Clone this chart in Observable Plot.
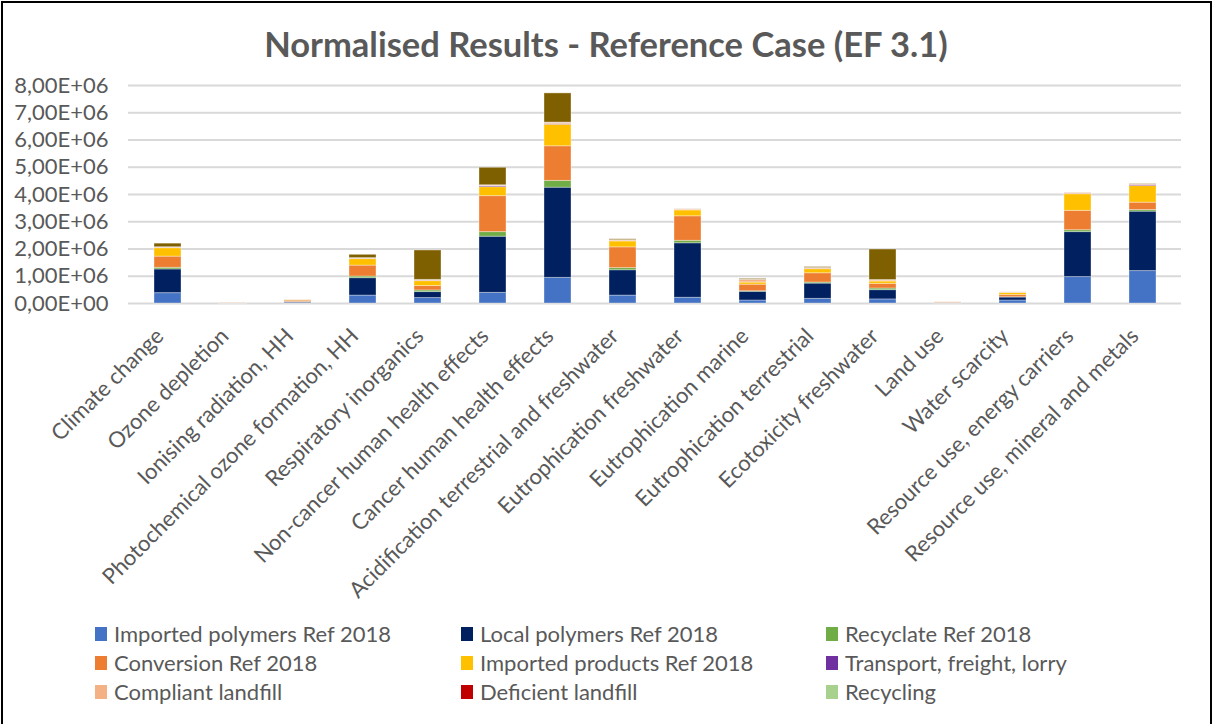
<!DOCTYPE html>
<html>
<head>
<meta charset="utf-8">
<script src="https://cdn.jsdelivr.net/npm/d3@7"></script>
<script src="https://cdn.jsdelivr.net/npm/@observablehq/plot@0.6"></script>
<style>
  html, body { margin: 0; padding: 0; background: #fff; }
  #frame { position: relative; width: 1212px; height: 724px; overflow: hidden; font-family: Lato, "Liberation Sans", sans-serif; color: #595959; }
  #border { position: absolute; left: 1px; top: 1px; width: 1207px; height: 740px; border-top: 2px solid #000; border-left: 2px solid #000; border-right: 2px solid #000; }
  #title { position: absolute; left: 0; width: 1212px; top: 24px; text-align: center; font-size: 34.5px; line-height: 40px; font-weight: bold; color: #595959; }
  #chart { position: absolute; left: 0; top: 70px; }
  #legend { position: absolute; left: 0; top: 0; }
  .leg { position: absolute; font-size: 22px; color: #595959; white-space: nowrap; line-height: 22px; }
  .sw { position: absolute; width: 12px; height: 14px; }
</style>
</head>
<body>
<div id="frame">
  <div id="border"></div>
  <div id="title">Normalised Results - Reference Case (EF 3.1)</div>
  <div id="chart"></div>
  <div id="legend"></div>
</div>
<script>
const categories = [
  "Climate change", "Ozone depletion", "Ionising radiation, HH", "Photochemical ozone formation, HH",
  "Respiratory inorganics", "Non-cancer human health effects", "Cancer human health effects",
  "Acidification terrestrial and freshwater", "Eutrophication freshwater", "Eutrophication marine",
  "Eutrophication terrestrial", "Ecotoxicity freshwater", "Land use", "Water scarcity",
  "Resource use, energy carriers", "Resource use, mineral and metals"
];
const seriesNames = [
  "Imported polymers Ref 2018", "Local polymers Ref 2018", "Recyclate Ref 2018",
  "Conversion Ref 2018", "Imported products Ref 2018", "Transport, freight, lorry",
  "Compliant landfill", "Deficient landfill", "Recycling", "Incineration"
];
const seriesColors = ["#4472C4", "#002060", "#70AD47", "#ED7D31", "#FFC000", "#7030A0", "#F4B183", "#C00000", "#A9D18E", "#7F6000"];
// values in millions (×1E+06)
const importedPolymers = [0.38, 0.005, 0.02, 0.29, 0.20, 0.39, 0.94, 0.29, 0.21, 0.11, 0.17, 0.15, 0.01, 0.11, 0.97, 1.19];
const localPolymers    = [0.87, 0.005, 0.03, 0.64, 0.22, 2.06, 3.31, 0.93, 2.00, 0.32, 0.56, 0.34, 0.01, 0.11, 1.65, 2.18];
const recyclate        = [0.06, 0.000, 0.005, 0.06, 0.06, 0.17, 0.25, 0.08, 0.09, 0.02, 0.04, 0.06, 0.002, 0.01, 0.07, 0.06];
const conversion       = [0.41, 0.005, 0.05, 0.40, 0.16, 1.32, 1.27, 0.76, 0.90, 0.24, 0.34, 0.17, 0.02, 0.08, 0.71, 0.27];
const importedProducts = [0.31, 0.002, 0.02, 0.24, 0.18, 0.33, 0.79, 0.22, 0.22, 0.08, 0.15, 0.09, 0.005, 0.08, 0.61, 0.61];
const transport        = [0.01, 0.000, 0.002, 0.01, 0.01, 0.04, 0.02, 0.01, 0.005, 0.005, 0.01, 0.005, 0.001, 0.002, 0.01, 0.04];
const compliantLandfill= [0.02, 0.010, 0.01, 0.02, 0.03, 0.02, 0.05, 0.03, 0.03, 0.09, 0.03, 0.04, 0.01, 0.02, 0.04, 0.03];
const deficientLandfill= [0.003, 0.000, 0.001, 0.003, 0.003, 0.005, 0.005, 0.003, 0.003, 0.003, 0.003, 0.003, 0.001, 0.001, 0.003, 0.003];
const recycling        = [0.003, 0.000, 0.001, 0.003, 0.003, 0.005, 0.005, 0.003, 0.003, 0.003, 0.003, 0.003, 0.001, 0.001, 0.003, 0.003];
const incineration     = [0.13, 0.000, 0.000, 0.12, 1.08, 0.64, 1.07, 0.03, 0.000, 0.03, 0.03, 1.12, 0.000, 0.000, 0.000, 0.01];
const yTicks = [0, 1e6, 2e6, 3e6, 4e6, 5e6, 6e6, 7e6, 8e6];
const legendCount = 9;

const seriesValues = [importedPolymers, localPolymers, recyclate, conversion, importedProducts,
  transport, compliantLandfill, deficientLandfill, recycling, incineration];

const data = [];
categories.forEach((c, i) => {
  seriesNames.forEach((s, j) => {
    data.push({category: c, series: s, value: seriesValues[j][i] * 1e6});
  });
});

function fmt(v) {
  if (v === 0) return "0,00E+00";
  const e = Math.floor(Math.log10(Math.abs(v)));
  const m = v / Math.pow(10, e);
  return m.toFixed(2).replace(".", ",") + "E+" + String(e).padStart(2, "0");
}

const chart = Plot.plot({
  width: 1212,
  height: 545,
  marginLeft: 128,
  marginRight: 31,
  marginTop: 15,
  marginBottom: 312,
  style: {fontFamily: "Lato, 'Liberation Sans', sans-serif", fontSize: "22px", color: "#595959", background: "transparent"},
  x: {domain: categories, paddingInner: 0.59, paddingOuter: 0.295, align: 0.5, label: null},
  y: {domain: [0, 8e6], label: null},
  color: {domain: seriesNames, range: seriesColors},
  marks: [
    Plot.gridY(yTicks, {stroke: "#d9d9d9", strokeOpacity: 1, strokeWidth: 2}),
    Plot.barY(data, {x: "category", y: "value", fill: "series", z: "series", stroke: "white", strokeOpacity: 0.35, strokeWidth: 1}),
    Plot.axisX({tickRotate: -45, tickSize: 0, tickPadding: 29, dx: -8, label: null, fontSize: 22}),
    Plot.axisY(yTicks, {tickFormat: fmt, tickSize: 0, tickPadding: 20, label: null, fontSize: 22})
  ]
});
document.getElementById("chart").appendChild(chart);

const legend = document.getElementById("legend");
const colX = [95, 461, 826];
const rowY = [623, 652, 681];
seriesNames.slice(0, legendCount).forEach((s, i) => {
  const col = i % 3, row = Math.floor(i / 3);
  const sw = document.createElement("div");
  sw.className = "sw";
  sw.style.left = colX[col] + "px";
  sw.style.top = (rowY[row] + 4) + "px";
  sw.style.background = seriesColors[i];
  legend.appendChild(sw);
  const t = document.createElement("div");
  t.className = "leg";
  t.style.left = (colX[col] + 19) + "px";
  t.style.top = rowY[row] + "px";
  t.textContent = s;
  legend.appendChild(t);
});
</script>
</body>
</html>
